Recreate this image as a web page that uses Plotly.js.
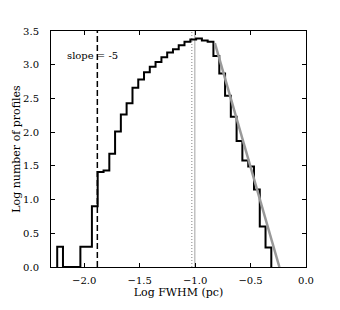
<!DOCTYPE html>
<html>
<head>
<meta charset="utf-8">
<script src="https://cdn.plot.ly/plotly-3.0.1.min.js"></script>
<style>html,body{margin:0;padding:0;background:#fff;}#chart{width:340px;height:310px;}</style>
</head>
<body>
<div id="chart"></div>
<script>
// Histogram bin edges (Log FWHM, pc) and heights (log number of profiles)
var binEdges = [-2.244, -2.192, -2.140, -2.087, -2.035, -1.983, -1.931, -1.879, -1.826, -1.774,
                -1.722, -1.670, -1.618, -1.565, -1.513, -1.461, -1.409, -1.357, -1.304, -1.252,
                -1.200, -1.148, -1.096, -1.043, -0.991, -0.939, -0.887, -0.835, -0.782, -0.730,
                -0.678, -0.626, -0.574, -0.521, -0.469, -0.417, -0.365, -0.313];
var logCounts = [0.30, 0, 0, 0, 0.30, 0.30, 0.90, 1.41, 1.43, 1.68,
                 2.01, 2.26, 2.43, 2.66, 2.78, 2.89, 2.97, 3.04, 3.11, 3.18,
                 3.23, 3.29, 3.34, 3.375, 3.39, 3.36, 3.34, 3.13, 2.87, 2.54,
                 2.23, 1.87, 1.58, 1.49, 1.15, 0.60, 0.29];
// slope fit line endpoints
var fitX = [-0.822, -0.240];
var fitY = [3.32, 0.0];
// vertical marker lines
var dashedX = -1.882;
var solidGrayX = -1.003;
var dottedX = -1.030;
var yRange = [0, 3.5];
var xRange = [-2.3, 0.0];
var xTicks = [-2.0, -1.5, -1.0, -0.5, 0.0];
var yTicks = [0.0, 0.5, 1.0, 1.5, 2.0, 2.5, 3.0, 3.5];
var slopeLabel = "slope = -5";

// build step outline
var stepX = [binEdges[0]];
var stepY = [0];
for (var i = 0; i < logCounts.length; i++) { stepX.push(binEdges[i]); stepY.push(logCounts[i]); }
stepX.push(binEdges[binEdges.length - 1]); stepY.push(0);

var serif = "DejaVu Serif";

var traces = [
  {x: [dottedX, dottedX], y: yRange, mode: 'lines', line: {color: '#9a9a9a', width: 1.2, dash: '1px,2px'}, hoverinfo: 'skip'},
  {x: [solidGrayX, solidGrayX], y: yRange, mode: 'lines', line: {color: '#b8b8b8', width: 1.3}, hoverinfo: 'skip'},
  {x: [dashedX, dashedX], y: yRange, mode: 'lines', line: {color: '#000', width: 1.5, dash: '6px,3px'}, hoverinfo: 'skip'},
  {x: stepX, y: stepY, mode: 'lines', line: {color: '#000', width: 2, shape: 'hv'}, hoverinfo: 'skip'},
  {x: fitX, y: fitY, mode: 'lines', line: {color: '#999999', width: 2.5}, hoverinfo: 'skip'}
];

var axisCommon = {
  showline: true, mirror: 'ticks', linecolor: '#000', linewidth: 1,
  ticks: 'inside', ticklen: 4, tickwidth: 1, tickcolor: '#000',
  showgrid: false, zeroline: false, tickformat: '.1f',
  tickfont: {family: serif, size: 10, color: '#000'}
};

var layout = {
  width: 340, height: 310,
  margin: {l: 51, r: 34, t: 31, b: 43, pad: 0},
  paper_bgcolor: '#fff', plot_bgcolor: '#fff',
  showlegend: false,
  xaxis: Object.assign({}, axisCommon, {
    range: xRange, tickvals: xTicks, ticklabelstandoff: 4,
    title: {text: 'Log FWHM (pc)', font: {family: serif, size: 11, color: '#000'}, standoff: 3}
  }),
  yaxis: Object.assign({}, axisCommon, {
    range: yRange, tickvals: yTicks, ticklabelstandoff: 9,
    title: {text: 'Log number of profiles', font: {family: serif, size: 11, color: '#000'}, standoff: 0}
  }),
  annotations: [{
    x: -1.925, y: 3.14, xref: 'x', yref: 'y', text: slopeLabel, showarrow: false,
    font: {family: serif, size: 10, color: '#000'}, bgcolor: 'rgba(255,255,255,0)'
  }]
};

Plotly.newPlot('chart', traces, layout, {staticPlot: true, displayModeBar: false});
</script>
</body>
</html>
